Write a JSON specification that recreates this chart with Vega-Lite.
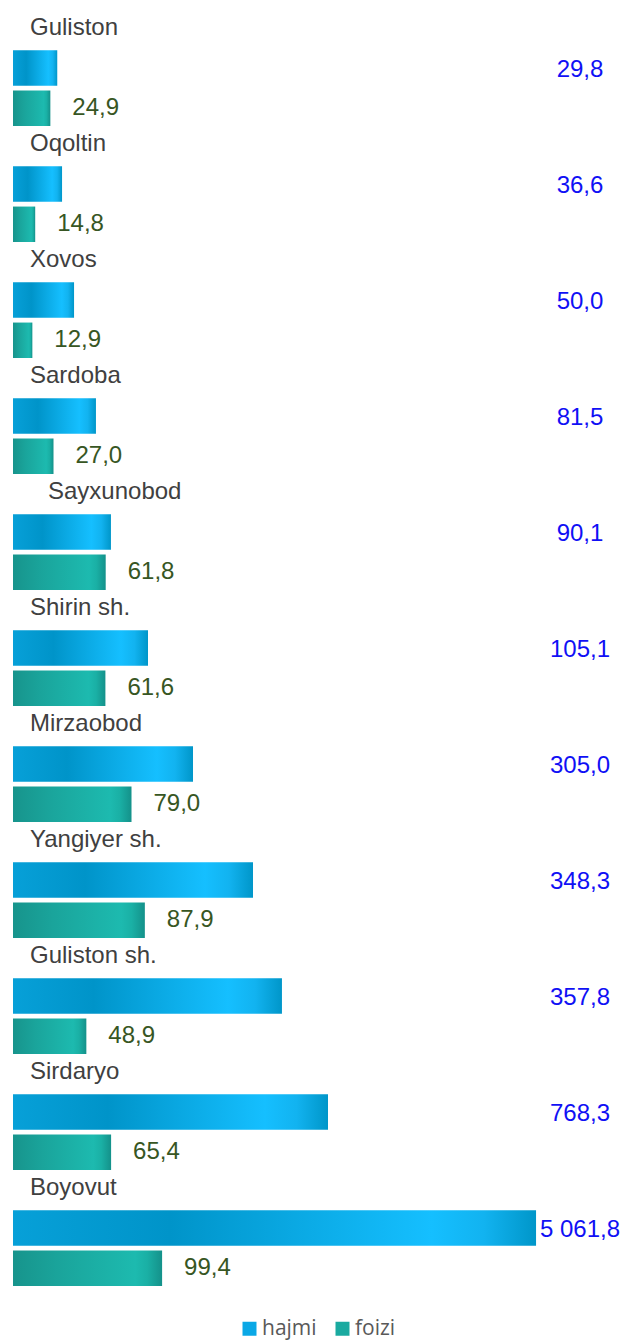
{
  "$schema": "https://vega.github.io/schema/vega-lite/v6.json",
  "width": 600,
  "height": 1276,
  "padding": {"left": 13, "top": 10, "right": 12, "bottom": 3},
  "autosize": {"type": "pad"},
  "config": {
    "view": {"stroke": null},
    "locale": {"number": {"decimal": ",", "thousands": " ", "grouping": [3], "currency": ["", ""]}}
  },
  "data": {
    "values": [
      {"name": "Guliston", "hajmi": 29.8, "hajmi_len": 29.5, "foizi": 24.9},
      {"name": "Oqoltin", "hajmi": 36.6, "hajmi_len": 32.7, "foizi": 14.8},
      {"name": "Xovos", "hajmi": 50.0, "hajmi_len": 40.7, "foizi": 12.9},
      {"name": "Sardoba", "hajmi": 81.5, "hajmi_len": 55.3, "foizi": 27.0},
      {"name": "Sayxunobod", "hajmi": 90.1, "hajmi_len": 65.3, "foizi": 61.8},
      {"name": "Shirin sh.", "hajmi": 105.1, "hajmi_len": 90, "foizi": 61.6},
      {"name": "Mirzaobod", "hajmi": 305.0, "hajmi_len": 120, "foizi": 79.0},
      {"name": "Yangiyer sh.", "hajmi": 348.3, "hajmi_len": 160, "foizi": 87.9},
      {"name": "Guliston sh.", "hajmi": 357.8, "hajmi_len": 179.3, "foizi": 48.9},
      {"name": "Sirdaryo", "hajmi": 768.3, "hajmi_len": 210, "foizi": 65.4},
      {"name": "Boyovut", "hajmi": 5061.8, "hajmi_len": 348.7, "foizi": 99.4}
    ]
  },
  "encoding": {
    "y": {"field": "name", "type": "nominal", "sort": null, "axis": null, "scale": {"paddingInner": 0, "paddingOuter": 0}}
  },
  "layer": [
    {
      "transform": [{"fold": ["hajmi_len"], "as": ["series", "v"]}],
      "mark": {"type": "bar", "color": {"gradient": "linear", "x1": 0, "y1": 0, "x2": 1, "y2": 0, "stops": [
                {"offset": 0, "color": "#07a0d8"}, {"offset": 0.3, "color": "#0094c9"}, {"offset": 0.8, "color": "#15bfff"}, {"offset": 0.9, "color": "#12b3f0"}, {"offset": 1, "color": "#0096c9"}]}},
      "encoding": {
        "x": {"field": "v", "type": "quantitative", "scale": {"domain": [0, 400]}, "axis": null},
        "yOffset": {"field": "series", "type": "nominal", "scale": {"domain": ["name", "hajmi_len", "foizi"], "paddingInner": 0.12, "paddingOuter": 0}}
      }
    },
    {
      "transform": [{"fold": ["foizi"], "as": ["series", "v"]}],
      "mark": {"type": "bar", "color": {"gradient": "linear", "x1": 0, "y1": 0, "x2": 1, "y2": 0, "stops": [
                {"offset": 0, "color": "#17948c"}, {"offset": 0.3, "color": "#1aa49b"}, {"offset": 0.82, "color": "#1dbaaf"}, {"offset": 0.9, "color": "#1ab0a5"}, {"offset": 1, "color": "#14918a"}]}},
      "encoding": {
        "x": {"field": "v", "type": "quantitative"},
        "yOffset": {"field": "series", "type": "nominal", "scale": {"domain": ["name", "hajmi_len", "foizi"], "paddingInner": 0.12, "paddingOuter": 0}}
      }
    },
    {
      "transform": [{"fold": ["hajmi_len", "foizi"], "as": ["series", "v"]}],
      "mark": {"type": "square", "opacity": 0, "size": 1},
      "encoding": {
        "x": {"datum": 10, "type": "quantitative"},
        "yOffset": {"field": "series", "type": "nominal", "scale": {"domain": ["name", "hajmi_len", "foizi"], "paddingInner": 0.12, "paddingOuter": 0}},
        "fill": {
          "field": "series", "type": "nominal",
          "scale": {"domain": ["hajmi_len", "foizi"], "range": ["#0aa8e6", "#1aaaa0"]},
          "legend": {
            "orient": "none", "legendX": 226, "legendY": 1308, "direction": "horizontal", "title": null, "padding": 0,
            "symbolType": "square", "symbolSize": 196, "symbolStrokeWidth": 0, "symbolOpacity": 1,
            "labelFont": "Open Sans", "labelFontSize": 21, "labelColor": "#595959", "labelOffset": 2, "columnPadding": 15,
            "labelExpr": "datum.label == 'hajmi_len' ? 'hajmi' : datum.label"
          }
        }
      }
    },
    {
      "transform": [{"fold": ["foizi"], "as": ["series", "v"]}],
      "mark": {"type": "text", "align": "left", "baseline": "middle", "dx": 22, "color": "#375623", "font": "Arial", "fontSize": 24},
      "encoding": {
        "x": {"field": "v", "type": "quantitative"},
        "yOffset": {"field": "series", "type": "nominal", "scale": {"domain": ["name", "hajmi_len", "foizi"], "paddingInner": 0.12, "paddingOuter": 0}},
        "text": {"field": "v", "type": "quantitative", "format": ",.1f"}
      }
    },
    {
      "transform": [{"fold": ["hajmi_len"], "as": ["series", "v"]}],
      "mark": {"type": "text", "align": "center", "baseline": "middle", "dy": 2, "color": "#1010f5", "font": "Arial", "fontSize": 24},
      "encoding": {
        "x": {"datum": 378, "type": "quantitative"},
        "yOffset": {"field": "series", "type": "nominal", "scale": {"domain": ["name", "hajmi_len", "foizi"], "paddingInner": 0.12, "paddingOuter": 0}},
        "text": {"field": "hajmi", "type": "quantitative", "format": ",.1f"}
      }
    },
    {
      "transform": [{"filter": "datum.name != 'Sayxunobod'"}, {"fold": ["name"], "as": ["series", "v"]}],
      "mark": {"type": "text", "align": "left", "baseline": "middle", "dx": 17, "color": "#404040", "font": "Arial", "fontSize": 24},
      "encoding": {
        "x": {"datum": 0, "type": "quantitative"},
        "yOffset": {"field": "series", "type": "nominal", "scale": {"domain": ["name", "hajmi_len", "foizi"], "paddingInner": 0.12, "paddingOuter": 0}},
        "text": {"field": "v", "type": "nominal"}
      }
    },
    {
      "transform": [{"filter": "datum.name == 'Sayxunobod'"}, {"fold": ["name"], "as": ["series", "v"]}],
      "mark": {"type": "text", "align": "left", "baseline": "middle", "dx": 35, "color": "#404040", "font": "Arial", "fontSize": 24},
      "encoding": {
        "x": {"datum": 0, "type": "quantitative"},
        "yOffset": {"field": "series", "type": "nominal", "scale": {"domain": ["name", "hajmi_len", "foizi"], "paddingInner": 0.12, "paddingOuter": 0}},
        "text": {"field": "v", "type": "nominal"}
      }
    }
  ]
}
